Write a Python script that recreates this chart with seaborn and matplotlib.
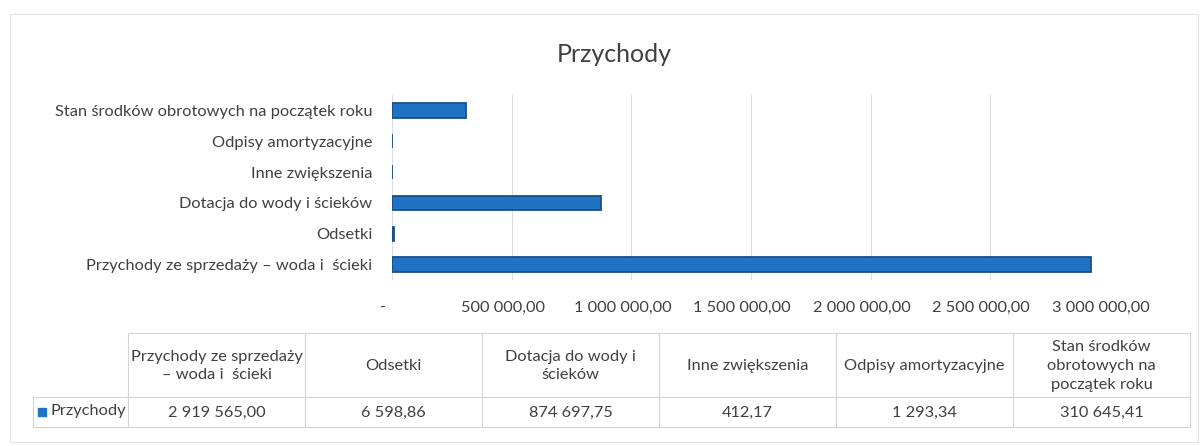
import matplotlib
matplotlib.use("Agg")
import matplotlib.pyplot as plt
import matplotlib.transforms as mtransforms
import seaborn as sns
import pandas as pd
from matplotlib.ticker import FuncFormatter
from matplotlib.lines import Line2D
from matplotlib.patches import Rectangle

# ---- data ----
categories = [
    "Przychody ze sprzedaży \u2013 woda i  ścieki",
    "Odsetki",
    "Dotacja do wody i ścieków",
    "Inne zwiększenia",
    "Odpisy amortyzacyjne",
    "Stan środków obrotowych na początek roku",
]
table_headers = [
    "Przychody ze sprzedaży\n\u2013 woda i  ścieki",
    "Odsetki",
    "Dotacja do wody i\nścieków",
    "Inne zwiększenia",
    "Odpisy amortyzacyjne",
    "Stan środków\nobrotowych na\npoczątek roku",
]
values = [2919565.00, 6598.86, 874697.75, 412.17, 1293.34, 310645.41]
series_name = "Przychody"
x_ticks = [0, 500000, 1000000, 1500000, 2000000, 2500000, 3000000]
title = "Przychody"

BLUE = "#1F72C4"
TXT = "#404040"
FONT = "Lato"
FS = 11.8


def fmt_pl(v):
    if v == 0:
        return "-"
    s = f"{v:,.2f}"
    s = s.replace(",", " ").replace(".", ",")
    return s


sns.set_theme(style="white")
plt.rcParams["font.family"] = [FONT, "DejaVu Sans"]

W = 1203.0
H = 446.0
fig = plt.figure(figsize=(12.03, 4.46), dpi=100)
ax = fig.add_axes([392 / W, 1 - 280 / H, (1110 - 392) / W, (280 - 95) / H])

df = pd.DataFrame({"cat": categories, "val": values})
order = categories[::-1]
sns.barplot(data=df, x="val", y="cat", order=order, orient="h", color=BLUE,
            width=0.46, saturation=1, edgecolor="#1a4f86", linewidth=1.3, ax=ax)

ax.set_xlim(0, 3000000)
ax.set_ylim(5.5, -0.5)
ax.set_xticks(x_ticks)
ax.xaxis.set_major_formatter(FuncFormatter(lambda v, p: fmt_pl(v)))
ax.grid(axis="x", color="#dcdcdc", linewidth=0.8)
ax.set_axisbelow(True)
for s in ax.spines.values():
    s.set_visible(False)
ax.tick_params(axis="y", length=0, pad=14, labelsize=FS, labelcolor=TXT)
ax.tick_params(axis="x", length=0, pad=15, labelsize=FS, labelcolor=TXT)
ax.set_xlabel("")
ax.set_ylabel("")
shift = mtransforms.ScaledTranslation(-9 / 100, 0, fig.dpi_scale_trans)
for lab in ax.get_xticklabels():
    lab.set_transform(lab.get_transform() + shift)

fig.text(614 / W, 1 - 55 / H, title, ha="center", va="center", fontsize=18, color=TXT)

# ---- data table ----
col_edges = [128, 305, 482, 659, 836, 1013, 1190]
y_top, y_mid, y_bot = 333, 397, 427
leg_left = 33
lc = "#d4d4d4"


def fx(px):
    return px / W


def fy(py):
    return 1 - py / H


def hline(x0, x1, y):
    fig.add_artist(Line2D([fx(x0), fx(x1)], [fy(y), fy(y)], color=lc, lw=0.8))


def vline(x, y0, y1):
    fig.add_artist(Line2D([fx(x), fx(x)], [fy(y0), fy(y1)], color=lc, lw=0.8))


hline(col_edges[0], col_edges[-1], y_top)
hline(leg_left, col_edges[-1], y_mid)
hline(leg_left, col_edges[-1], y_bot)
vline(leg_left, y_mid, y_bot)
for x in col_edges:
    vline(x, y_top, y_bot)

for i, (hd, v) in enumerate(zip(table_headers, values)):
    cx = (col_edges[i] + col_edges[i + 1]) / 2
    fig.text(fx(cx), fy((y_top + y_mid) / 2 + 1), hd, ha="center", va="center",
             fontsize=FS, color=TXT, linespacing=1.45)
    fig.text(fx(cx), fy((y_mid + y_bot) / 2 + 1), fmt_pl(v), ha="center", va="center",
             fontsize=FS, color=TXT)

fig.add_artist(Rectangle((fx(38), fy(416)), fx(8), 8 / H, color=BLUE,
                         transform=fig.transFigure))
fig.text(fx(50), fy(411), series_name, ha="left", va="center", fontsize=FS, color=TXT)

# chart frame
fig.add_artist(Rectangle((fx(10), fy(442)), fx(1188), 428 / H, fill=False,
                         edgecolor="#e4e4e4", lw=0.8, transform=fig.transFigure))

fig.savefig("out.png", dpi=100, facecolor="white")
